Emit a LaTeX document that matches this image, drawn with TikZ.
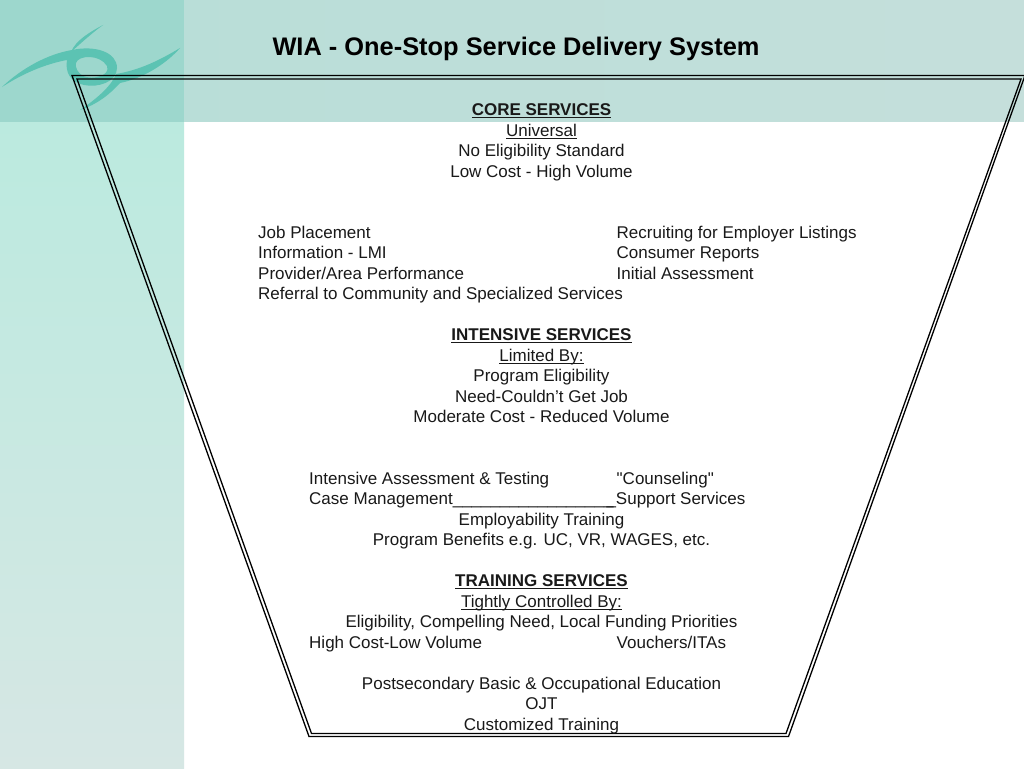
\documentclass[tikz,border=0pt]{standalone}
\usepackage{amsmath}
\usepackage{xcolor}
\usepackage{fontspec}
\setmainfont{Liberation Sans}
\newfontfamily\plainquotes{Liberation Sans}[Renderer=HarfBuzz]
\definecolor{cornerteal}{HTML}{9DD7CD}
\definecolor{bandtop}{HTML}{B9DED8}
\definecolor{bandend}{HTML}{C5DFDB}
\definecolor{sidetop}{HTML}{BBEADF}
\definecolor{sideend}{HTML}{D6E7E4}
\definecolor{logoteal}{HTML}{5CC3B3}
\newcommand{\headline}[1]{\underline{\smash{#1}}}
\tikzset{
    rowtext/.style={inner sep=0pt, anchor=base, font=\fontsize{17}{20}\selectfont, text=black!90},
    lefttext/.style={rowtext, anchor=base west},
    funnel/.style={draw=black, line width=1.3pt, line join=miter},
}

\begin{document}
\begin{tikzpicture}[x=1pt, y=-1pt]
    \useasboundingbox (0, 0) rectangle (1024, 768);
    % Draw background
    \fill[white] (0, 0) rectangle (1024, 768);
    \shade[top color=sidetop, bottom color=sideend] (0, 122) rectangle (184, 768);
    \shade[left color=bandtop, right color=bandend] (184, 0) rectangle (1024, 121.6);
    \fill[cornerteal] (0, 0) rectangle (184, 122);
    % Draw logo
    \fill[logoteal, even odd rule] (2, 87) .. controls (22, 68) and (48, 54) .. (72, 50)
        .. controls (95, 45) and (117, 52) .. (117, 68)
        .. controls (117, 82) and (98, 88) .. (84, 85)
        .. controls (70, 82) and (65, 72) .. (67, 60)
        .. controls (45, 64) and (22, 74) .. (2, 87) -- cycle
        (76, 63) .. controls (78, 55) and (100, 54) .. (107, 66)
        .. controls (111, 76) and (92, 80) .. (83, 76)
        .. controls (78, 73) and (75, 68) .. (76, 63) -- cycle;
    \fill[logoteal] (103, 25) .. controls (90, 32) and (76, 40) .. (71, 52)
        .. controls (80, 44) and (92, 33) .. (103, 25) -- cycle;
    \fill[logoteal] (180, 48) .. controls (160, 60) and (140, 70) .. (116, 74)
        .. controls (112, 85) and (98, 98) .. (80, 110)
        .. controls (98, 104) and (110, 94) .. (120, 83)
        .. controls (145, 78) and (168, 62) .. (180, 48) -- cycle;
    % Draw funnel
    \coordinate (outerA) at (72, 75.5);
    \coordinate (outerB) at (1025, 75.5);
    \coordinate (outerC) at (788.5, 736.5);
    \coordinate (outerD) at (309, 736.5);
    \coordinate (innerA) at (77, 79);
    \coordinate (innerB) at (1021, 79);
    \coordinate (innerC) at (786, 733.5);
    \coordinate (innerD) at (311.5, 733.5);
    \draw[funnel] (outerA) -- (outerB) -- (outerC) -- (outerD) -- cycle;
    \draw[funnel] (innerA) -- (innerB) -- (innerC) -- (innerD) -- cycle;
    % Title
    \node[rowtext, font=\fontsize{25.4}{28}\selectfont\bfseries, text=black] (title) at (516, 56) {WIA - One-Stop Service Delivery System};
    % Core services
    \node[rowtext] (coreHead) at (541.5, 115) {\textbf{\headline{CORE SERVICES}}};
    \node[rowtext] (coreSub) at (541.5, 136) {\headline{Universal}};
    \node[rowtext] (coreElig) at (541.5, 156) {No Eligibility Standard};
    \node[rowtext] (coreCost) at (541.5, 177) {Low Cost - High Volume};
    \node[lefttext] (jobPlace) at (258, 238) {Job Placement};
    \node[lefttext] (recruit) at (616.5, 238) {Recruiting for Employer Listings};
    \node[lefttext] (infoLmi) at (258, 258) {Information - LMI};
    \node[lefttext] (consumer) at (616.5, 258) {Consumer Reports};
    \node[lefttext] (provider) at (258, 279) {Provider/Area Performance};
    \node[lefttext] (initial) at (616.5, 279) {Initial Assessment};
    \node[lefttext] (referral) at (258, 299) {Referral to Community and Specialized Services};
    % Intensive services
    \node[rowtext] (intHead) at (541.5, 340) {\textbf{\headline{INTENSIVE SERVICES}}};
    \node[rowtext] (intSub) at (541.5, 361) {\headline{Limited By:}};
    \node[rowtext] (intElig) at (541.5, 381) {Program Eligibility};
    \node[rowtext] (intNeed) at (541.5, 402) {Need-Couldn’t Get Job};
    \node[rowtext] (intCost) at (541.5, 422) {Moderate Cost - Reduced Volume};
    \node[lefttext] (intAssess) at (309, 484) {Intensive Assessment \& Testing};
    \node[lefttext] (counsel) at (616.5, 484) {{\plainquotes"}Counseling{\plainquotes"}};
    \node[lefttext] (caseMgmt) at (309, 504) {Case Management\_\_\_\_\_\_\_\_\_\_\_\_\_\_\_\_\_\kern-7pt\_Support Services};
    \node[rowtext] (employ) at (541.5, 525) {Employability Training};
    \node[rowtext] (benefits) at (541.5, 545) {Program Benefits e.g. UC, VR, WAGES, etc.};
    % Training services
    \node[rowtext] (trainHead) at (541.5, 586) {\textbf{\headline{TRAINING SERVICES}}};
    \node[rowtext] (trainSub) at (541.5, 607) {\headline{Tightly Controlled By:}};
    \node[rowtext] (trainElig) at (541.5, 627) {Eligibility, Compelling Need, Local Funding Priorities};
    \node[lefttext] (highCost) at (309, 648) {High Cost-Low Volume};
    \node[lefttext] (vouchers) at (616.5, 648) {Vouchers/ITAs};
    \node[rowtext] (postsec) at (541.5, 689) {Postsecondary Basic \& Occupational Education};
    \node[rowtext] (ojt) at (541.5, 709) {OJT};
    \node[rowtext] (custom) at (541.5, 730) {Customized Training};
\end{tikzpicture}
\end{document}
